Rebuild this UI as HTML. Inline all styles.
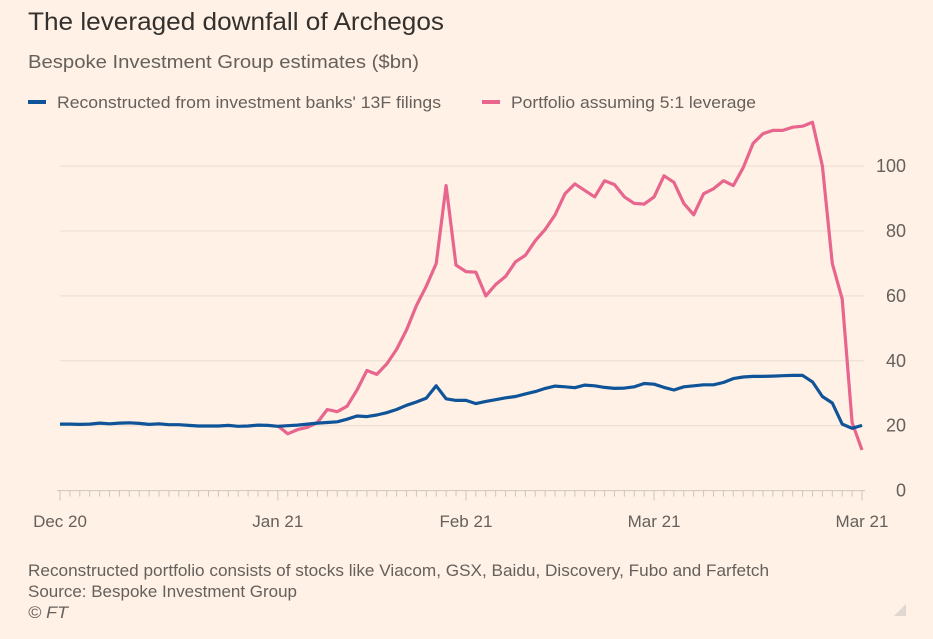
<!DOCTYPE html>
<html><head><meta charset="utf-8"><style>
html,body{margin:0;padding:0;background:#FFF1E5;}
svg{display:block;font-family:"Liberation Sans",sans-serif;}
</style></head><body>
<svg id="chart" width="933" height="639" viewBox="0 0 933 639">
<rect width="933" height="639" fill="#FFF1E5"/>
<text x="28" y="30" font-size="25" fill="#33302e" textLength="416" lengthAdjust="spacingAndGlyphs">The leveraged downfall of Archegos</text>
<text x="28" y="68" font-size="18" fill="#66605c" textLength="391" lengthAdjust="spacingAndGlyphs">Bespoke Investment Group estimates ($bn)</text>
<g>
<g><line x1="28" x2="46" y1="102" y2="102" stroke="#0F5499" stroke-width="4"/><text x="57" y="108" font-size="17" fill="#66605c" textLength="384" lengthAdjust="spacingAndGlyphs">Reconstructed from investment banks' 13F filings</text></g>
<g><line x1="482" x2="500" y1="102" y2="102" stroke="#E8658E" stroke-width="4"/><text x="511" y="108" font-size="17" fill="#66605c" textLength="245" lengthAdjust="spacingAndGlyphs">Portfolio assuming 5:1 leverage</text></g>
</g>
<g id="grid"></g><g id="xaxis"></g><g id="series"></g>
<text x="28" y="576" font-size="17" fill="#66605c" textLength="741" lengthAdjust="spacingAndGlyphs">Reconstructed portfolio consists of stocks like Viacom, GSX, Baidu, Discovery, Fubo and Farfetch</text>
<text x="28" y="597" font-size="17" fill="#66605c" textLength="269" lengthAdjust="spacingAndGlyphs">Source: Bespoke Investment Group</text>
<text x="28" y="618" font-size="17" font-style="italic" fill="#66605c" textLength="40" lengthAdjust="spacingAndGlyphs">© FT</text>
<polygon points="906,604 906,616 894,616" fill="#e0d8d0"/>
</svg>
<script>
const yTicks=[0,20,40,60,80,100];
const xLabels=["Dec 20","Jan 21","Feb 21","Mar 21","Mar 21"];
const xLabelIdx=[0,22,41,60,81];
const blue=[20.5,20.5,20.4,20.5,20.8,20.6,20.8,20.9,20.7,20.4,20.6,20.3,20.3,20.1,19.9,19.9,19.9,20.1,19.8,19.9,20.2,20.1,
19.8,20,20.2,20.5,20.8,21,21.2,22,23,22.8,23.3,24,25,26.3,27.3,28.5,32.3,28.3,27.8,27.8,26.8,27.5,28,28.6,29,29.8,30.5,31.5,
32.2,32,31.7,32.5,32.3,31.8,31.5,31.6,32,33,32.8,31.8,31,32,32.3,32.6,32.6,33.3,34.5,35,35.2,35.2,35.3,35.4,35.5,35.5,33.5,29,27,20.5,19.2,20.1];
const pink=[null,null,null,null,null,null,null,null,null,null,null,null,null,null,null,null,null,null,null,null,null,null,
20,17.5,18.8,19.5,21,25,24.3,26,31,37,35.8,39,43.5,49.5,57,63,70,94,69.5,67.5,67.3,60,63.5,66,70.5,72.5,77,80.5,
85,91.5,94.5,92.5,90.5,95.5,94.3,90.5,88.5,88.3,90.5,97,95,88.5,85,91.5,93,95.5,94,99.5,107,110,111,111,112,112.3,113.5,100,70,59,21,12.5];
const NS="http://www.w3.org/2000/svg";
const X0=60,X1=862,N=81,Y0=490.6,YK=3.245;
const xs=i=>X0+(X1-X0)*i/N, ys=v=>Y0-v*YK;
function mk(t,a,p){const e=document.createElementNS(NS,t);for(const k in a)e.setAttribute(k,a[k]);p.appendChild(e);return e;}
const grid=document.getElementById('grid'),xa=document.getElementById('xaxis'),ser=document.getElementById('series');
yTicks.forEach(v=>{
 if(v>0){const l=mk('line',{x1:X0,x2:X1+2,y1:ys(v),y2:ys(v),stroke:'#e9ddd2','stroke-width':1},grid);
 
 }
 const t=mk('text',{x:906,y:ys(v)+6,'font-size':18,fill:'#66605c','text-anchor':'end'},grid);t.textContent=v;
 
 
});
const base=mk('line',{x1:X0-3,x2:X1+3,y1:ys(0),y2:ys(0),stroke:'#cfc5bb','stroke-width':1},xa);


for(let i=0;i<=N;i++){const major=xLabelIdx.includes(i);
 const t=mk('line',{x1:xs(i),x2:xs(i),y1:ys(0),y2:ys(0)+(major?10:6),stroke:'#cfc5bb','stroke-width':1},xa);
 
 }
xLabels.forEach((s,k)=>{const t=mk('text',{x:xs(xLabelIdx[k]),y:527,'font-size':17,fill:'#66605c','text-anchor':'middle'},xa);t.textContent=s;
 
 });
function path(arr){let d='',pen=false;arr.forEach((v,i)=>{if(v==null){pen=false;return;}d+=(pen?'L':'M')+xs(i).toFixed(1)+','+ys(v).toFixed(1);pen=true;});return d;}
const pl=mk('path',{d:path(pink),fill:'none',stroke:'#E8658E','stroke-width':3.2,'stroke-linejoin':'round'},ser);


const bl=mk('path',{d:path(blue),fill:'none',stroke:'#0F5499','stroke-width':3.2,'stroke-linejoin':'round'},ser);


</script>
</body></html>
